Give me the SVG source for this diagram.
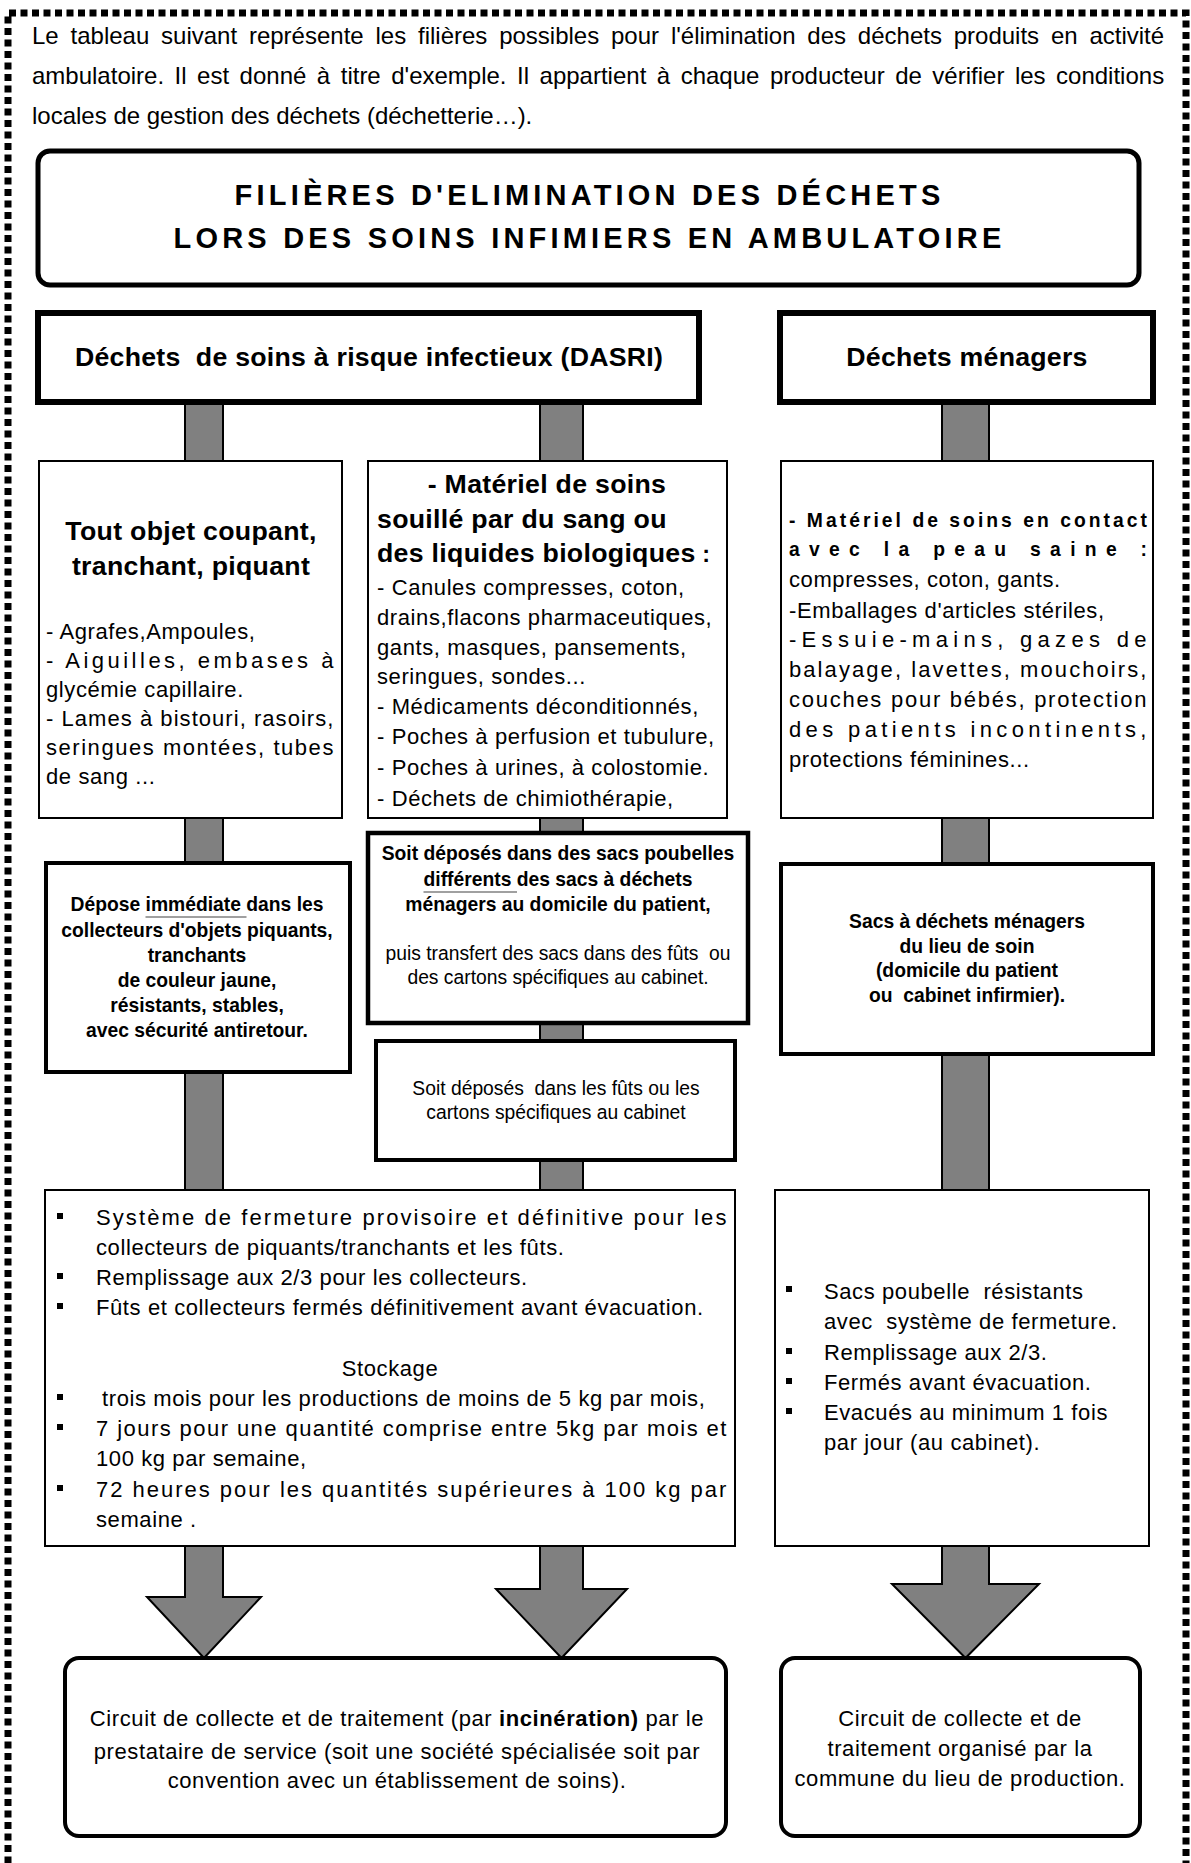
<svg xmlns="http://www.w3.org/2000/svg" width="1191" height="1863" viewBox="0 0 1191 1863">
<style>
text { font-family: "Liberation Sans", Arial, Helvetica, sans-serif; fill: #000; }
.b { font-weight: bold; }
.body { font-size: 22px; letter-spacing: 0.6px; }
.hdr { font-size: 26.7px; font-weight: bold; letter-spacing: 0.3px; }
.r3 { font-size: 19.3px; }
.mid { text-anchor: middle; }
.pre { white-space: pre; }
.thin { fill: #fff; stroke: #000; stroke-width: 2; }
.thick { fill: #fff; stroke: #000; stroke-width: 4; }
.bar { fill: #808080; stroke: #000; stroke-width: 2; stroke-linejoin: miter; }
.bul { fill: #000; }
.ul { stroke: #808080; stroke-width: 1.5; }
</style>
<rect width="1191" height="1863" fill="#fff"/>
<g id="frame">
<path d="M8,1875 V13 H1186 V1875" fill="none" stroke="#000" stroke-width="7" stroke-dasharray="7 4.5"/>
</g>
<g id="intro">
<text x="32" y="44" font-size="24" word-spacing="5.15">Le tableau suivant représente les filières possibles pour l'élimination des déchets produits en activité</text>
<text x="32" y="84" font-size="24" word-spacing="3.84">ambulatoire. Il est donné à titre d'exemple. Il appartient à chaque producteur de vérifier les conditions</text>
<text x="32" y="124" font-size="24">locales de gestion des déchets (déchetterie…).</text>
</g>
<g id="connectors">
<polygon class="bar" points="185,402 223,402 223,1597 261,1597 204,1658 147,1597 185,1597"/>
<polygon class="bar" points="540,402 583,402 583,1589 627,1589 561.5,1658 496,1589 540,1589"/>
<polygon class="bar" points="942,402 989,402 989,1584 1039,1584 965.5,1658 892,1584 942,1584"/>
</g>
<g id="title">
<rect x="38" y="151" width="1101" height="134" rx="12" fill="#fff" stroke="#000" stroke-width="5"/>
<text class="b mid" font-size="29" x="589.5" y="205" letter-spacing="4.2">FILIÈRES D'ELIMINATION DES DÉCHETS</text>
<text class="b mid" font-size="29" x="589.5" y="248" letter-spacing="4.2">LORS DES SOINS INFIMIERS EN AMBULATOIRE</text>
</g>
<g id="dasri">
<rect x="38" y="313" width="661" height="89" fill="#fff" stroke="#000" stroke-width="6"/>
<text class="b mid pre" font-size="26.7" x="369" y="366" letter-spacing="0.25">Déchets  de soins à risque infectieux (DASRI)</text>
</g>
<g id="menagers">
<rect x="780" y="313" width="373" height="89" fill="#fff" stroke="#000" stroke-width="6"/>
<text class="b mid" font-size="26.7" x="967" y="366" letter-spacing="0.25">Déchets ménagers</text>
</g>
<g id="piquants">
<rect class="thin" x="39" y="461" width="303" height="357"/>
<text class="hdr mid" x="191" y="540">Tout objet coupant,</text>
<text class="hdr mid" x="191" y="575">tranchant, piquant</text>
<text class="body" x="46" y="639">- Agrafes,Ampoules,</text>
<text class="body" x="46" y="668" textLength="288" lengthAdjust="spacing">- Aiguilles, embases à</text>
<text class="body" x="46" y="697">glycémie capillaire.</text>
<text class="body" x="46" y="726" textLength="288" lengthAdjust="spacing">- Lames à bistouri, rasoirs,</text>
<text class="body" x="46" y="755" textLength="288" lengthAdjust="spacing">seringues montées, tubes</text>
<text class="body" x="46" y="784">de sang ...</text>
</g>
<g id="souille">
<rect class="thin" x="368" y="461" width="359" height="357"/>
<text class="hdr mid" x="547" y="493">- Matériel de soins</text>
<text class="hdr" x="377" y="528">souillé par du sang ou</text>
<text class="hdr" x="377" y="562">des liquides biologiques<tspan font-size="23.3"> :</tspan></text>
<text class="body" x="377" y="595">- Canules compresses, coton,</text>
<text class="body" x="377" y="625">drains,flacons pharmaceutiques,</text>
<text class="body" x="377" y="655">gants, masques, pansements,</text>
<text class="body" x="377" y="684">seringues, sondes...</text>
<text class="body" x="377" y="714">- Médicaments déconditionnés,</text>
<text class="body" x="377" y="744">- Poches à perfusion et tubulure,</text>
<text class="body" x="377" y="775">- Poches à urines, à colostomie.</text>
<text class="body" x="377" y="806">- Déchets de chimiothérapie,</text>
</g>
<g id="peau-saine">
<rect class="thin" x="781" y="461" width="372" height="357"/>
<text class="r3 b" x="789" y="527" textLength="358" lengthAdjust="spacing">- Matériel de soins en contact</text>
<text class="r3 b" x="789" y="556" textLength="358" lengthAdjust="spacing">avec la peau saine :</text>
<text class="body" x="789" y="587">compresses, coton, gants.</text>
<text class="body" x="789" y="618">-Emballages d'articles stériles,</text>
<text class="body" x="789" y="647" textLength="358" lengthAdjust="spacing">-Essuie-mains, gazes de</text>
<text class="body" x="789" y="677" textLength="358" lengthAdjust="spacing">balayage, lavettes, mouchoirs,</text>
<text class="body" x="789" y="707" textLength="358" lengthAdjust="spacing">couches pour bébés, protection</text>
<text class="body" x="789" y="737" textLength="358" lengthAdjust="spacing">des patients incontinents,</text>
<text class="body" x="789" y="767">protections féminines...</text>
</g>
<g id="depose">
<rect class="thick" x="46" y="863" width="304" height="209"/>
<text class="r3 b mid" x="197" y="911">Dépose immédiate dans les</text>
<line class="ul" x1="145.5" y1="917" x2="246.5" y2="917"/>
<text class="r3 b mid" x="197" y="937">collecteurs d'objets piquants,</text>
<text class="r3 b mid" x="197" y="962">tranchants</text>
<text class="r3 b mid" x="197" y="987">de couleur jaune,</text>
<text class="r3 b mid" x="197" y="1012">résistants, stables,</text>
<text class="r3 b mid" x="197" y="1037">avec sécurité antiretour.</text>
</g>
<g id="sacs-differents">
<rect x="368" y="833" width="380" height="190" fill="#fff" stroke="#000" stroke-width="4.5"/>
<text class="r3 b mid" x="558" y="860">Soit déposés dans des sacs poubelles</text>
<text class="r3 b mid" x="558" y="886">différents des sacs à déchets</text>
<line class="ul" x1="423.5" y1="892" x2="517" y2="892"/>
<text class="r3 b mid" x="558" y="911">ménagers au domicile du patient,</text>
<text class="r3 mid pre" x="558" y="960">puis transfert des sacs dans des fûts  ou</text>
<text class="r3 mid" x="558" y="984">des cartons spécifiques au cabinet.</text>
</g>
<g id="futs">
<rect class="thick" x="376" y="1041" width="359" height="119"/>
<text class="r3 mid pre" x="556" y="1095">Soit déposés  dans les fûts ou les</text>
<text class="r3 mid" x="556" y="1119">cartons spécifiques au cabinet</text>
</g>
<g id="sacs-menagers">
<rect class="thick" x="781" y="864" width="372" height="190"/>
<text class="r3 b mid" x="967" y="928">Sacs à déchets ménagers</text>
<text class="r3 b mid" x="967" y="953">du lieu de soin</text>
<text class="r3 b mid" x="967" y="977">(domicile du patient</text>
<text class="r3 b mid pre" x="967" y="1002">ou  cabinet infirmier).</text>
</g>
<g id="stockage">
<rect class="thin" x="45" y="1190" width="690" height="356"/>
<rect class="bul" x="57" y="1213" width="6" height="6"/>
<rect class="bul" x="57" y="1273" width="6" height="6"/>
<rect class="bul" x="57" y="1303" width="6" height="6"/>
<rect class="bul" x="57" y="1394" width="6" height="6"/>
<rect class="bul" x="57" y="1424" width="6" height="6"/>
<rect class="bul" x="57" y="1485" width="6" height="6"/>
<text class="body" x="96" y="1225" textLength="631" lengthAdjust="spacing">Système de fermeture provisoire et définitive pour les</text>
<text class="body" x="96" y="1255">collecteurs de piquants/tranchants et les fûts.</text>
<text class="body" x="96" y="1285">Remplissage aux 2/3 pour les collecteurs.</text>
<text class="body" x="96" y="1315">Fûts et collecteurs fermés définitivement avant évacuation.</text>
<text class="body mid" x="390" y="1376">Stockage</text>
<text class="body" x="102" y="1406">trois mois pour les productions de moins de 5 kg par mois,</text>
<text class="body" x="96" y="1436" textLength="631" lengthAdjust="spacing">7 jours pour une quantité comprise entre 5kg par mois et</text>
<text class="body" x="96" y="1466">100 kg par semaine,</text>
<text class="body" x="96" y="1497" textLength="631" lengthAdjust="spacing">72 heures pour les quantités supérieures à 100 kg par</text>
<text class="body" x="96" y="1527">semaine .</text>
</g>
<g id="sacs-poubelle">
<rect class="thin" x="775" y="1190" width="374" height="356"/>
<rect class="bul" x="786" y="1286" width="6" height="6"/>
<rect class="bul" x="786" y="1348" width="6" height="6"/>
<rect class="bul" x="786" y="1378" width="6" height="6"/>
<rect class="bul" x="786" y="1408" width="6" height="6"/>
<text class="body pre" x="824" y="1299">Sacs poubelle  résistants</text>
<text class="body pre" x="824" y="1329">avec  système de fermeture.</text>
<text class="body" x="824" y="1360">Remplissage aux 2/3.</text>
<text class="body" x="824" y="1390">Fermés avant évacuation.</text>
<text class="body" x="824" y="1420">Evacués au minimum 1 fois</text>
<text class="body" x="824" y="1450">par jour (au cabinet).</text>
</g>
<g id="incineration">
<rect x="65" y="1658" width="661" height="178" rx="14" fill="#fff" stroke="#000" stroke-width="4"/>
<text class="body mid" x="397" y="1726">Circuit de collecte et de traitement (par <tspan class="b">incinération)</tspan> par le</text>
<text class="body mid" x="397" y="1759">prestataire de service (soit une société spécialisée soit par</text>
<text class="body mid" x="397" y="1788">convention avec un établissement de soins).</text>
</g>
<g id="commune">
<rect x="781" y="1658" width="359" height="178" rx="14" fill="#fff" stroke="#000" stroke-width="4"/>
<text class="body mid" x="960" y="1726">Circuit de collecte et de</text>
<text class="body mid" x="960" y="1756">traitement organisé par la</text>
<text class="body mid" x="960" y="1786">commune du lieu de production.</text>
</g>
</svg>
